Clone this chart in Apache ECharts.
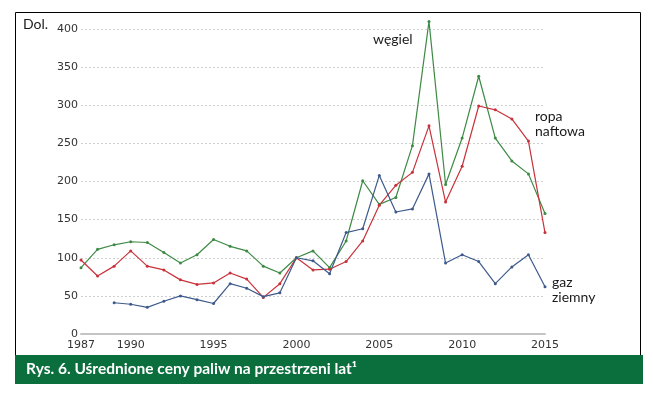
<!DOCTYPE html>
<html>
<head>
<meta charset="utf-8">
<script src="https://cdn.jsdelivr.net/npm/echarts@6/dist/echarts.min.js"></script>
<style>
html,body{margin:0;padding:0;background:#fff;}
#chart{width:653px;height:395px;}
</style>
</head>
<body>
<div id="chart"></div>
<script>
const years = ['1987','1988','1989','1990','1991','1992','1993','1994','1995','1996','1997','1998','1999','2000','2001','2002','2003','2004','2005','2006','2007','2008','2009','2010','2011','2012','2013','2014','2015'];
const wegiel = [87,111,117,121,120,107,93,104,124,115,109,89,80,100,109,87,122,201,170,179,247,410,196,257,338,257,227,210,158];
const ropa = [97,76,89,109,89,84,71,65,67,80,72,48,66,100,84,85,95,122,169,195,212,273,173,220,299,294,282,253,133];
const gaz = [null,null,41,39,35,43,50,45,40,66,60,49,54,100,96,79,133,138,208,160,164,210,93,104,95,66,88,104,62];
const yTicks = {min:0, max:400, interval:50};
const shownYears = ['1987','1990','1995','2000','2005','2010','2015'];
const titleText = 'Rys. 6. Uśrednione ceny paliw na przestrzeni lat¹';
const unitText = 'Dol.';
const seriesNames = {wegiel:'węgiel', ropa:['ropa','naftowa'], gaz:['gaz','ziemny']};

const chart = echarts.init(document.getElementById('chart'), null, {renderer:'canvas'});
const labelFont = {fontFamily:'Lato', fontSize:14, fill:'#1a1a1a'};
function mkLine(color, data, name){
  return {
    name:name, type:'line', data:data, connectNulls:false, clip:false,
    symbol:'circle', symbolSize:3, showSymbol:true,
    lineStyle:{color:color, width:1.2},
    itemStyle:{color:color},
    animation:false
  };
}
chart.setOption({
  animation:false,
  grid:{left:81, right:108, top:29, bottom:61, containLabel:false},
  xAxis:{
    type:'category', data:years, boundaryGap:false,
    axisLine:{show:true, lineStyle:{color:'#c4c4c4', width:2}},
    axisTick:{show:false},
    axisLabel:{
      interval:function(i,v){return shownYears.indexOf(v)>=0;},
      margin:6, color:'#333', fontFamily:'DejaVu Sans', fontSize:11
    },
    splitLine:{show:false}
  },
  yAxis:{
    type:'value', min:yTicks.min, max:yTicks.max, interval:yTicks.interval,
    axisLine:{show:false}, axisTick:{show:false},
    axisLabel:{margin:3, color:'#333', fontFamily:'DejaVu Sans', fontSize:11, padding:[0,0,8,0]},
    splitLine:{show:true, lineStyle:{color:'#d0d0d0', type:[2,2], width:1}}
  },
  series:[
    mkLine('#3d8a45', wegiel, seriesNames.wegiel),
    mkLine('#c8323a', ropa, 'ropa naftowa'),
    mkLine('#3e5a8c', gaz, 'gaz ziemny')
  ],
  graphic:[
    {type:'rect', silent:true, z:-10, shape:{x:15.5, y:12.5, width:625, height:343}, style:{fill:'none', stroke:'#000', lineWidth:1}},
    {type:'rect', silent:true, z:10, shape:{x:15, y:355, width:628, height:29}, style:{fill:'#0b6e3d'}},
    {type:'text', z:11, left:26, top:361, style:{text:titleText, fill:'#fff', fontFamily:'Lato', fontWeight:'bold', fontSize:15.5}},
    {type:'text', z:11, left:23, top:17, style:Object.assign({text:unitText}, labelFont)},
    {type:'text', z:11, left:373, top:32, style:Object.assign({text:seriesNames.wegiel}, labelFont)},
    {type:'text', z:11, left:535, top:109, style:Object.assign({text:seriesNames.ropa.join('\n'), lineHeight:15}, labelFont)},
    {type:'text', z:11, left:552, top:275, style:Object.assign({text:seriesNames.gaz.join('\n'), lineHeight:15}, labelFont)}
  ]
});
</script>
</body>
</html>
